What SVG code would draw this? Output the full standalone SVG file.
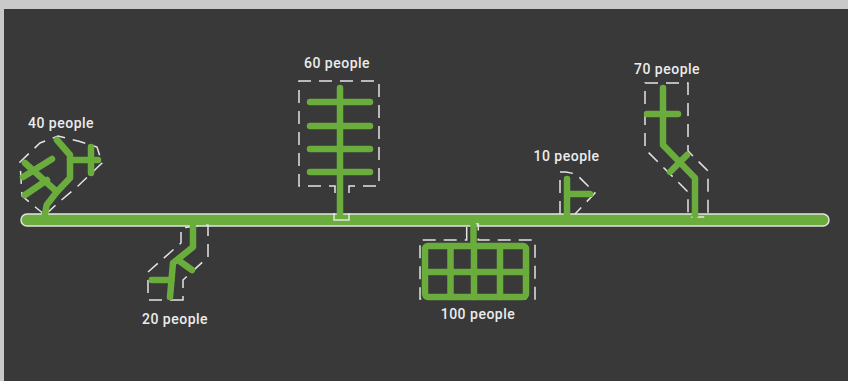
<svg xmlns="http://www.w3.org/2000/svg" width="848" height="381" viewBox="0 0 848 381">
<style>
.g{fill:none;stroke:#6aad3d;stroke-width:6.5;stroke-linecap:round;stroke-linejoin:round}
.d{fill:none;stroke:#e4e4e4;stroke-width:1.5;stroke-dasharray:13 8}
.s{fill:none;stroke:#e4e4e4;stroke-width:1.5}
.t{font-family:Roboto,"DejaVu Sans",sans-serif;font-size:14px;font-weight:500;fill:#ececec;text-anchor:middle;letter-spacing:0.5px}
</style>
<rect x="0" y="0" width="848" height="381" fill="#c9c9ca"/>
<rect x="4" y="9" width="844" height="372" fill="#393939"/>

<g id="bar">
<rect x="21" y="214" width="808" height="12" rx="6" fill="#6aad3d" stroke="#e4e4e4" stroke-width="1.5"/>
</g>

<g id="node-40">
<path class="d" d="M45,215 L22,196 L20,162 L40,143 L58,136 L78,141 L97,147 L102,163 L78,186 L58,203 Z"/>
<path class="g" d="M45,214 L46.7,205 L56.7,192 L70,178 L70,155 L57,140"/>
<path class="g" d="M70,160 H98 M91,147 V173"/>
<path class="g" d="M25,163 L56.7,191.7 M52,159 L23,177 M47,180 L25,195"/>
<text class="t" x="61" y="128">40 people</text>
</g>

<g id="node-20">
<path class="d" d="M183,300 H148 V272 L181,243 V228 L208,225 V257 L183,280 Z"/>
<path class="g" d="M193,225 V247 L173,263 L170,297 M178,260 L192,270 M151.7,280 H171.7"/>
<text class="t" x="175" y="324">20 people</text>
</g>

<g id="node-60">
<path class="d" d="M335,193 V186 H299 V81 H379 V186 H349 V193"/>
<path class="s" d="M334,213 V220 H349 V213"/>
<path class="g" d="M340,88 V214 M310,102 H370 M310,126 H370 M310,149 H370 M310,172 H370"/>
<text class="t" x="337" y="68">60 people</text>
</g>

<g id="node-100">
<path class="d" d="M466.7,240 V224 H478.3 V240 H535 V299 H420 V240 Z"/>
<path class="g" d="M473.5,226 V246"/>
<rect x="425" y="246" width="101" height="51" rx="3" class="g" stroke-width="7"/>
<path class="g" stroke-width="6.5" d="M450.5,246 V297 M474,246 V297 M500,246 V297 M425,272 H526"/>
<text class="t" x="478" y="319">100 people</text>
</g>

<g id="node-10">
<path class="d" d="M560,214 V172 H566 L576,174 L595,193 L575,214"/>
<path class="g" d="M567,179 V214 M567,194 H590"/>
<text class="t" x="566.5" y="161">10 people</text>
</g>

<g id="node-70">
<path class="d" d="M645,83 H688 V151 L708,171 V217 H688 V192 L645,149 Z"/>
<path class="g" d="M663,88 V145 L695,178 V215 M647,114 H678 M670,172 L687,155"/>
<text class="t" x="667" y="74">70 people</text>
</g>
</svg>
